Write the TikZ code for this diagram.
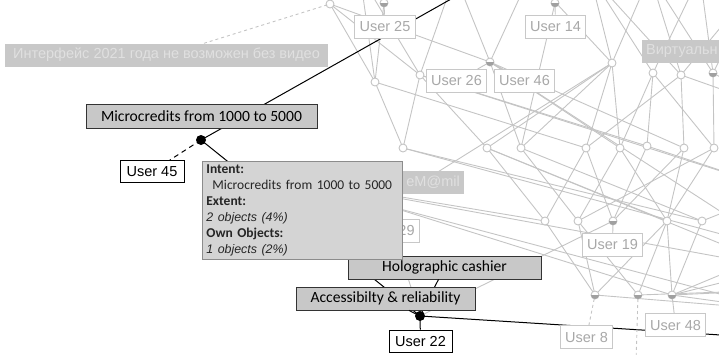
\documentclass[tikz,border=0pt]{standalone}
\usepackage{fontspec}
\setmainfont{Liberation Sans}
\newfontfamily\calibri{Carlito}
\definecolor{edgegrey}{RGB}{196,196,196}
\definecolor{boxgrey}{RGB}{200,200,200}
\definecolor{txtgrey}{RGB}{168,168,168}
\definecolor{attrgrey}{RGB}{200,200,200}
\definecolor{attrtxt}{RGB}{224,224,224}
\definecolor{tipfill}{RGB}{212,212,212}
\definecolor{tipline}{RGB}{140,140,140}
\definecolor{ownfill}{RGB}{160,160,160}

\begin{document}
\begin{tikzpicture}[x=1pt, y=-1pt,
    edge/.style={draw=edgegrey, line width=0.9pt},
    hiedge/.style={draw=black, line width=1pt},
    objlabel/.style={draw=boxgrey, fill=white, text=txtgrey, line width=0.8pt,
        font=\fontsize{14.5}{17}\selectfont, inner xsep=5pt, inner ysep=0pt, minimum height=23pt},
    attrlabel/.style={fill=attrgrey, text=attrtxt,
        font=\fontsize{14.5}{17}\selectfont, inner xsep=4pt, inner ysep=0pt, minimum height=23pt},
    hilabel/.style={draw=black!80, fill=attrgrey, text=black, line width=0.8pt,
        font=\calibri\fontsize{15.6}{19}\selectfont, inner ysep=0pt, minimum height=23pt},
    hiobj/.style={draw=black, fill=white, text=black, line width=0.8pt,
        font=\fontsize{14.5}{17}\selectfont, inner ysep=0pt, minimum height=22pt},
    tipbox/.style={draw=tipline, fill=tipfill, text=black!85, line width=0.8pt,
        font=\calibri\fontsize{13.5}{16}\selectfont, text width=192pt, align=left,
        inner xsep=4pt, inner ysep=3pt, minimum height=98pt}]
    \clip (0,0) rectangle (719,354);

    \coordinate (ta) at (330,4);
    \coordinate (tb) at (384,3);
    \coordinate (tc) at (555,3);
    \coordinate (td) at (460,-6);
    \coordinate (k1) at (360,-25);
    \coordinate (k2) at (455,-25);
    \coordinate (k3) at (530,-25);
    \coordinate (k4) at (590,-25);
    \coordinate (k5) at (650,-25);
    \coordinate (k6) at (700,-25);
    \coordinate (k7) at (760,-20);
    \coordinate (r1) at (375,82);
    \coordinate (r2) at (420,75);
    \coordinate (r3) at (490,62);
    \coordinate (r4) at (612,63);
    \coordinate (r5) at (653,73);
    \coordinate (r6) at (681,75);
    \coordinate (r7) at (713,73);
    \coordinate (s1) at (403,148);
    \coordinate (s2) at (487,148);
    \coordinate (s3) at (521,148);
    \coordinate (s4) at (586,148);
    \coordinate (s5) at (620,148);
    \coordinate (s6) at (647,146);
    \coordinate (s7) at (684,148);
    \coordinate (s8) at (714,148);
    \coordinate (h1) at (300,180);
    \coordinate (h2) at (385,205);
    \coordinate (q1) at (545,221);
    \coordinate (q2) at (578,221);
    \coordinate (q3) at (613,221);
    \coordinate (q4) at (667,221);
    \coordinate (q5) at (702,221);
    \coordinate (p1) at (595,295);
    \coordinate (p2) at (638,295);
    \coordinate (p3) at (672,295);
    \coordinate (p2d) at (636,362);
    \coordinate (o1) at (780,110);
    \coordinate (o2) at (780,190);
    \coordinate (o3) at (780,250);
    \coordinate (o4) at (780,268);
    \coordinate (o5) at (780,290);
    \coordinate (o6) at (780,310);
    \coordinate (bot) at (800,340);
    \coordinate (mc) at (201,140);
    \coordinate (bn) at (420,316);

    \foreach \a/\b in {ta/r1, ta/r2, ta/r3, tb/r1, k1/r1, k1/r2, k2/r2, k2/r3,
        k3/r3, k3/r4, k4/r4, k4/r5, k4/r6, k5/r4, k5/r6, k5/r7, k6/r5, k6/r7,
        k7/r6, k7/r7, tc/s3,
        r1/s1, r1/s4, r2/s1, r2/s2, r2/s6, r3/s3, r3/s5, r3/s7,
        r4/s2, r4/s3, r4/s4, r4/s5, r5/s5, r5/s6, r5/s8, r6/s4, r6/s7,
        r7/s8, r7/o1, r6/o1, r2/o2, r3/o3,
        s1/q5, s1/o3, s2/q1, s2/q4, s2/o4, s3/q2, s3/q5, s4/q1, s4/q3, s5/q2, s5/q4,
        s6/o2, s6/q3, s7/q3, s7/q4, s8/q4, s8/q2,
        h1/q1, h1/o4, h2/p3, h2/o6, h2/r4, h2/bn, bn/q3,
        q1/p1, q2/p1, q2/p2, q4/p1, q4/p2, q4/p3, q5/p3, q5/o2,
        p1/o6, p2/o5, p3/o3, p3/o4, p3/o5, p3/o6}{
        \draw[edge] (\a) -- (\b);
    }
    \draw[hiedge] (td) -- (mc) -- (bn) -- (bot);

    \foreach \P in {ta,tb,tc,r1,r2,r3,r4,r5,r6,r7,s1,s2,s3,s4,s5,s6,s7,s8,
        q1,q2,q3,q4,q5,p1,p2,p3}{
        \filldraw[fill=white, draw=edgegrey, line width=0.9pt] (\P) circle[radius=4pt];
    }
    \foreach \P in {tb,tc,r3,r7,q3,p1,p2,p3}{
        \begin{scope}
            \clip (\P) ++(-6,0) rectangle ++(12,6);
            \fill[ownfill] (\P) circle[radius=4pt];
        \end{scope}
    }

    \node[attrlabel, minimum width=323pt] (int) at (166.5,55) {Интерфейс 2021 года не возможен без видео};
    \node[attrlabel, anchor=west] (virt) at (642,51.5) {Виртуальн};
    \node[attrlabel, anchor=east, text width=72pt, align=right] (email) at (464,182) {eM@mil};
    \node[objlabel] (u25) at (385,26.5) {User 25};
    \node[objlabel] (u14) at (555.5,26.5) {User 14};
    \node[objlabel] (u26) at (456.5,81) {User 26};
    \node[objlabel] (u46) at (524.5,81) {User 46};
    \node[objlabel, anchor=east] (u29) at (420,231) {User 29};
    \node[objlabel] (u19) at (612.5,245) {User 19};
    \node[objlabel] (u8) at (586.5,337) {User 8};
    \node[objlabel] (u48) at (675.5,325) {User 48};
    \draw[edge, dashed] (int) -- (ta);
    \draw[edge, shorten <=4pt] (tb) -- (u25);
    \draw[edge, shorten <=4pt] (tc) -- (u14);
    \draw[edge, shorten <=4pt] (r3) -- (u26);
    \draw[edge, shorten <=4pt] (r3) -- (u46);
    \draw[edge, shorten <=4pt] (q3) -- (u19);
    \draw[edge, dashed, shorten <=4pt] (p1) -- (u8);
    \draw[edge, dashed, shorten <=4pt] (p2) -- (p2d);
    \draw[edge, shorten <=4pt] (p3) -- (u48);

    \node[hilabel, minimum width=231pt, minimum height=24pt] (mcl) at (201.5,116) {Microcredits from 1000 to 5000};
    \node[hiobj, minimum width=64pt] (u45) at (152,171.5) {User 45};
    \draw[hiedge, dashed, dash pattern=on 5pt off 4pt] (mc) -- (u45);
    \node[hilabel, minimum width=193pt] (holo) at (444.5,267.5) {Holographic cashier};
    \draw[hiedge] (bn) -- (holo);
    \node[hilabel, minimum width=179pt] (acc) at (385.5,298.5) {Accessibilty \& reliability};
    \draw[hiedge] (bn) -- (acc);
    \node[hiobj, minimum width=63pt] (u22) at (420.5,341) {User 22};
    \draw[hiedge] (bn) -- (u22);
    \foreach \P in {(mc), (bn)}{
        \fill \P circle[radius=5pt];
    }

    \node[tipbox, anchor=north west] (tip) at (202,161) {\textbf{Intent:}\\
        \hspace*{6pt}Microcredits from 1000 to 5000\\
        \textbf{Extent:}\\
        {\normalfont\itshape\fontsize{12.4}{16}\selectfont 2 objects (4\%)}\\
        \textbf{Own Objects:}\\
        {\normalfont\itshape\fontsize{12.4}{16}\selectfont 1 objects (2\%)}};
\end{tikzpicture}
\end{document}
